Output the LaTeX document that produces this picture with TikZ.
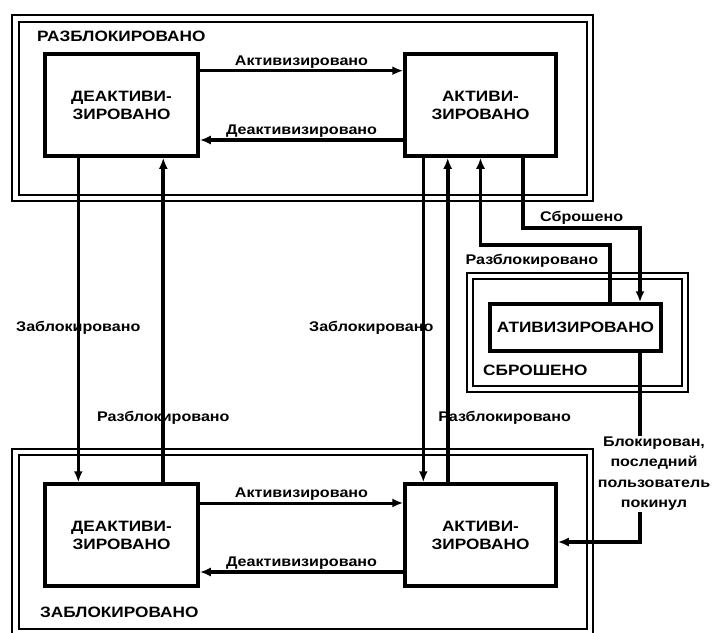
\documentclass[tikz,border=0pt]{standalone}
\usepackage{fontspec}
\setmainfont{Liberation Sans}[FakeStretch=1.15]
\usepackage{tikz}
\usetikzlibrary{arrows.meta, positioning}

\begin{document}
\begin{tikzpicture}[
    x=1pt, y=-1pt,
    statebox/.style={rectangle, draw, line width=3.5pt, minimum width=#1,
                     minimum height=102pt, align=center, inner sep=0pt,
                     font=\bfseries\fontsize{15}{18}\selectfont},
    framelbl/.style={inner sep=0pt, anchor=west,
                     font=\bfseries\fontsize{15}{18}\selectfont},
    frameline/.style={line width=2pt},
    lbl/.style={inner sep=1pt, font=\bfseries\fontsize{14}{20.5}\selectfont},
    flow/.style={line width=#1, -{Latex[length=11pt,width=9pt]}},
    flow/.default=3.8pt
]
\useasboundingbox (0,0) rectangle (715,632);

% Frames
\draw[frameline] (12,15) rectangle (593,201);
\draw[frameline] (19,22) rectangle (587,195);
\draw[frameline] (12,449) rectangle (593,634);
\draw[frameline] (19,455) rectangle (587,629);
\draw[frameline] (467,273) rectangle (688,392);
\draw[frameline] (473,279) rectangle (682,386);

\node[framelbl] (unlocked) at (37,36) {РАЗБЛОКИРОВАНО};
\node[framelbl] (locked) at (40,612) {ЗАБЛОКИРОВАНО};
\node[framelbl] (reset) at (483,370) {СБРОШЕНО};

% States
\node[statebox=153pt] (dU) at (121.5,105) {ДЕАКТИВИ-\\ЗИРОВАНО};
\node[statebox=151pt] (aU) at (480.5,105) {АКТИВИ-\\ЗИРОВАНО};
\node[statebox=153pt] (dL) at (121.5,535) {ДЕАКТИВИ-\\ЗИРОВАНО};
\node[statebox=151pt] (aL) at (480.5,535) {АКТИВИ-\\ЗИРОВАНО};
\node[statebox=171pt, minimum height=47pt] (rA) at (575.5,327.5) {АТИВИЗИРОВАНО};

% Transitions inside the frames
\draw[flow=3pt] ([yshift=34.3pt]dU.east) -- ([yshift=34.3pt]aU.west)
    node[lbl, midway, above] {Активизировано};
\draw[flow] ([yshift=-35pt]aU.west) -- ([yshift=-35pt]dU.east)
    node[lbl, midway, above] {Деактивизировано};
\draw[flow=3pt] ([yshift=32pt]dL.east) -- ([yshift=32pt]aL.west)
    node[lbl, midway, above] {Активизировано};
\draw[flow] ([yshift=-37pt]aL.west) -- ([yshift=-37pt]dL.east)
    node[lbl, midway, above] {Деактивизировано};

% Locking and unlocking
\draw[flow=2.6pt] ([xshift=-43.2pt]dU.south) -- ([xshift=-43.2pt]dL.north)
    node[lbl, pos=0.525] {Заблокировано};
\draw[flow] ([xshift=41.8pt]dL.north) -- ([xshift=41.8pt]dU.south)
    node[lbl, pos=0.198] {Разблокировано};
\draw[flow=2.6pt] ([xshift=-57.2pt]aU.south) -- ([xshift=-57.2pt]aL.north)
    node[lbl, pos=0.525, xshift=-52pt] {Заблокировано};
\draw[flow] ([xshift=-32.8pt]aL.north) -- ([xshift=-32.8pt]aU.south)
    node[lbl, pos=0.198, xshift=57pt] {Разблокировано};

% Reset
\draw[flow] ([xshift=42.8pt]aU.south) -- ++(0,70)
    -| node[lbl, pos=0.5, anchor=south east, xshift=-14pt] {Сброшено}
    ([xshift=64.5pt]rA.north);
\draw[flow] ([xshift=34.5pt]rA.north) -- ++(0,-57)
    node[lbl, anchor=north east, xshift=-9pt, yshift=-6pt] {Разблокировано}
    -| (aU.south);
\draw[flow] ([xshift=64.5pt]rA.south) |- ([yshift=-7pt]aL.east)
    node[lbl, pos=0.32, xshift=14pt, fill=white, align=center]
    {Блокирован,\\последний\\пользователь\\покинул};

\end{tikzpicture}
\end{document}
